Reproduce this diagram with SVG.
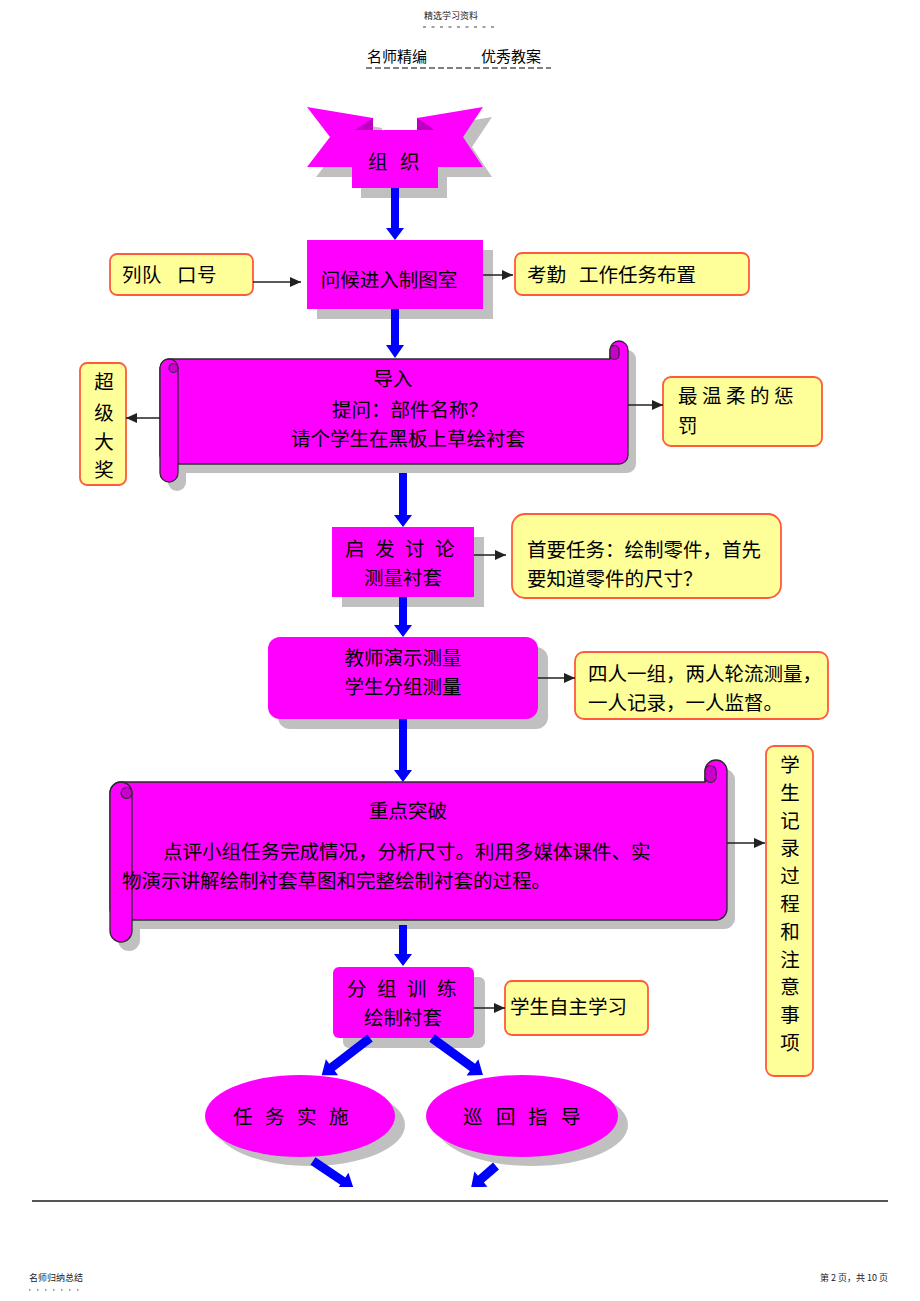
<svg xmlns="http://www.w3.org/2000/svg" width="920" height="1301" viewBox="0 0 920 1301">
<style>
text{font-family:"Noto Sans CJK SC","Liberation Sans",sans-serif;fill:#000}
.t{font-size:19.5px}
.s{font-size:9px;fill:#222}
.mag{fill:#FF00FF}
.sh{fill:#C0C0C0}
.scr{fill:#FF00FF;stroke:#2a2a2a;stroke-width:1.3}
.curl{fill:#CC00CC;stroke:#2a2a2a;stroke-width:1.2}
.yel{fill:#FFFF99;stroke:#FF5A3C;stroke-width:1.8}
.blk{stroke:#222;stroke-width:1.5;fill:none;marker-end:url(#ah)}
.blue{fill:#0000FF}
</style>
<defs>
<marker id="ah" markerUnits="userSpaceOnUse" markerWidth="11" markerHeight="10" refX="11" refY="5" orient="auto"><path d="M0,0 L11,5 L0,10 Z" fill="#222"/></marker>
<clipPath id="pg"><rect x="0" y="0" width="920" height="1187"/></clipPath>
</defs>
<rect width="920" height="1301" fill="#fff"/>

<g id="header">
<text class="s" x="424" y="19">精选学习资料</text>
<line x1="423" y1="27" x2="497" y2="27" stroke="#444" stroke-width="1" stroke-dasharray="3 5.5"/>
<text x="367" y="62" style="font-size:15px">名师精编</text>
<text x="481" y="62" style="font-size:15px">优秀教案</text>
<line x1="366" y1="68" x2="551" y2="68" stroke="#555" stroke-width="1.5" stroke-dasharray="6 3"/>
</g>

<g id="n_zuzhi">
<polygon class="sh" transform="translate(9,10)" points="307,107 373,118 373,130 417,130 417,118 483,107 463,137 483,167 438,167 438,188 352,188 352,167 307,167 330,137"/>
<polygon class="mag" points="307,107 373,118 373,130 417,130 417,118 483,107 463,137 483,167 438,167 438,188 352,188 352,167 307,167 330,137"/>
<polygon fill="#C000C0" points="355,130 373,118 373,130"/>
<polygon fill="#C000C0" points="435,130 417,118 417,130"/>
<text class="t" x="368 400" y="169">组织</text>
</g>

<g id="n_wenhou">
<rect class="sh" x="317" y="250" width="176" height="69"/>
<rect class="mag" x="307" y="240" width="176" height="69"/>
<text class="t" x="389" y="287" text-anchor="middle">问候进入制图室</text>
</g>

<g id="n_liedui">
<rect class="yel" x="110" y="254" width="143" height="41" rx="7"/>
<text class="t" x="122 142 177 197" y="282">列队口号</text>
</g>

<g id="n_kaoqin">
<rect class="yel" x="515" y="253" width="234" height="42" rx="7"/>
<text class="t" x="527" y="282">考勤</text>
<text class="t" x="579" y="282">工作任务布置</text>
</g>

<g id="n_daoru">
<g transform="translate(8,9)" class="sh">
<path d="M169,359 H610 V350 A9 9 0 0 1 628 350 V455 A9 9 0 0 1 619 464 H169 A9 9 0 0 1 160 455 V368 A9 9 0 0 1 169 359 Z"/>
<path d="M160,368 A9 9 0 0 1 178 368 V473 A9 9 0 0 1 160 473 Z"/>
</g>
<path class="scr" d="M169,359 H610 V350 A9 9 0 0 1 628 350 V455 A9 9 0 0 1 619 464 H169 A9 9 0 0 1 160 455 V368 A9 9 0 0 1 169 359 Z"/>
<path class="curl" d="M610,359 V350 A4.5 4.5 0 0 1 619 350 V355 A4.5 4.5 0 0 1 610 355"/>
<path class="scr" d="M160,368 A9 9 0 0 1 178 368 V473 A9 9 0 0 1 160 473 Z"/>
<path class="curl" d="M169,368 A4.5 4.5 0 0 1 178 368 A4.5 4.5 0 0 1 169 368 Z"/>
<text class="t" x="393" y="386" text-anchor="middle">导入</text>
<text class="t" x="410" y="417" text-anchor="middle">提问：部件名称？</text>
<text class="t" x="408" y="446" text-anchor="middle">请个学生在黑板上草绘衬套</text>
</g>

<g id="n_chaoji">
<rect class="yel" x="80" y="363" width="46" height="122" rx="7"/>
<text class="t" x="104" y="389" text-anchor="middle">超</text>
<text class="t" x="104" y="420" text-anchor="middle">级</text>
<text class="t" x="104" y="449" text-anchor="middle">大</text>
<text class="t" x="104" y="477" text-anchor="middle">奖</text>
</g>

<g id="n_chengfa">
<rect class="yel" x="663" y="377" width="159" height="69" rx="8"/>
<text class="t" x="678 702 726 750 774" y="403">最温柔的惩</text>
<text class="t" x="678" y="433">罚</text>
</g>

<g id="n_qifa">
<rect class="sh" x="342" y="537" width="142" height="70"/>
<rect class="mag" x="332" y="527" width="142" height="70"/>
<text class="t" x="345 375 405 435" y="556">启发讨论</text>
<text class="t" x="403" y="585" text-anchor="middle">测量衬套</text>
</g>

<g id="n_shouyao">
<rect class="yel" x="512" y="514" width="269" height="84" rx="13"/>
<text class="t" x="527" y="557">首要任务：绘制零件，首先</text>
<text class="t" x="527" y="586">要知道零件的尺寸？</text>
</g>

<g id="n_jiaoshi">
<rect class="sh" x="278" y="647" width="270" height="82" rx="12"/>
<rect class="mag" x="268" y="637" width="270" height="82" rx="12"/>
<text class="t" x="403" y="665" text-anchor="middle">教师演示测量</text>
<text class="t" x="403" y="694" text-anchor="middle">学生分组测量</text>
</g>

<g id="n_siren">
<rect class="yel" x="575" y="652" width="253" height="67" rx="9"/>
<text class="t" x="588" y="681">四人一组，两人轮流测量，</text>
<text class="t" x="588" y="710">一人记录，一人监督。</text>
</g>

<g id="n_zhongdian">
<g transform="translate(8,9)" class="sh">
<path d="M121,782 H705 V771 A11 11 0 0 1 727 771 V909 A11 11 0 0 1 716 920 H121 A11 11 0 0 1 110 909 V793 A11 11 0 0 1 121 782 Z"/>
<path d="M110,793 A11 11 0 0 1 132 793 V931 A11 11 0 0 1 110 931 Z"/>
</g>
<path class="scr" d="M121,782 H705 V771 A11 11 0 0 1 727 771 V909 A11 11 0 0 1 716 920 H121 A11 11 0 0 1 110 909 V793 A11 11 0 0 1 121 782 Z"/>
<path class="curl" d="M705,782 V771 A5.5 5.5 0 0 1 716 771 V777 A5.5 5.5 0 0 1 705 777"/>
<path class="scr" d="M110,793 A11 11 0 0 1 132 793 V931 A11 11 0 0 1 110 931 Z"/>
<path class="curl" d="M121,793 A5.5 5.5 0 0 1 132 793 A5.5 5.5 0 0 1 121 793 Z"/>
<text class="t" x="408" y="818" text-anchor="middle">重点突破</text>
<text class="t" x="163" y="859">点评小组任务完成情况，分析尺寸。利用多媒体课件、实</text>
<text class="t" x="122" y="888">物演示讲解绘制衬套草图和完整绘制衬套的过程。</text>
</g>

<g id="n_jilu">
<rect class="yel" x="766" y="746" width="47" height="330" rx="8"/>
<text class="t" x="790" text-anchor="middle" y="772">学</text>
<text class="t" x="790" text-anchor="middle" y="800">生</text>
<text class="t" x="790" text-anchor="middle" y="828">记</text>
<text class="t" x="790" text-anchor="middle" y="855">录</text>
<text class="t" x="790" text-anchor="middle" y="883">过</text>
<text class="t" x="790" text-anchor="middle" y="911">程</text>
<text class="t" x="790" text-anchor="middle" y="939">和</text>
<text class="t" x="790" text-anchor="middle" y="967">注</text>
<text class="t" x="790" text-anchor="middle" y="994">意</text>
<text class="t" x="790" text-anchor="middle" y="1022">事</text>
<text class="t" x="790" text-anchor="middle" y="1050">项</text>
</g>

<g id="n_fenzu">
<rect class="sh" x="343" y="977" width="142" height="71" rx="6"/>
<rect class="mag" x="333" y="967" width="141" height="71" rx="6"/>
<text class="t" x="347 377 407 437" y="996">分组训练</text>
<text class="t" x="403" y="1025" text-anchor="middle">绘制衬套</text>
</g>

<g id="n_zizhu">
<rect class="yel" x="505" y="981" width="143" height="54" rx="7"/>
<text class="t" x="510" y="1014">学生自主学习</text>
</g>

<g id="n_renwu">
<ellipse class="sh" cx="310" cy="1125" rx="95" ry="41"/>
<ellipse class="mag" cx="300" cy="1116" rx="95" ry="41"/>
<text class="t" x="233 265 297 329" y="1124">任务实施</text>
</g>

<g id="n_xunhui">
<ellipse class="sh" cx="532" cy="1125" rx="96" ry="41"/>
<ellipse class="mag" cx="522" cy="1116" rx="96" ry="41"/>
<text class="t" x="463 496 528 561" y="1124">巡回指导</text>
</g>

<g id="connectors">
<line class="blk" x1="253" y1="282" x2="301" y2="282"/>
<line class="blk" x1="483" y1="275" x2="513" y2="275"/>
<line class="blk" x1="160" y1="418" x2="126" y2="418"/>
<line class="blk" x1="628" y1="405" x2="663" y2="405"/>
<line class="blk" x1="474" y1="555" x2="506" y2="555"/>
<line class="blk" x1="538" y1="678" x2="575" y2="678"/>
<line class="blk" x1="727" y1="843" x2="765" y2="843"/>
<line class="blk" x1="474" y1="1008" x2="505" y2="1008"/>
<polygon class="blue" points="391,188 399,188 399,228 404,228 395,240 386,228 391,228"/>
<polygon class="blue" points="391,309 399,309 399,345 404,345 395,358 386,345 391,345"/>
<polygon class="blue" points="399,473 407,473 407,515 412,515 403,527 394,515 399,515"/>
<polygon class="blue" points="399,597 407,597 407,625 412,625 403,637 394,625 399,625"/>
<polygon class="blue" points="399,719 407,719 407,770 412,770 403,782 394,770 399,770"/>
<polygon class="blue" points="399,925 407,925 407,954 412,954 403,966 394,954 399,954"/>
<polygon class="blue" transform="translate(370,1038) rotate(142.4)" points="0,-4.5 48,-4.5 48,-10 61,0 48,10 48,4.5 0,4.5"/>
<polygon class="blue" transform="translate(432,1038) rotate(36)" points="0,-4.5 50,-4.5 50,-10 63,0 50,10 50,4.5 0,4.5"/>
<g clip-path="url(#pg)">
<polygon class="blue" transform="translate(313,1161) rotate(34)" points="0,-4.5 36,-4.5 36,-10 49,0 36,10 36,4.5 0,4.5"/>
<polygon class="blue" transform="translate(496,1166) rotate(139)" points="0,-4.5 20,-4.5 20,-10 33,0 20,10 20,4.5 0,4.5"/>
</g>
</g>

<g id="footer">
<line x1="32" y1="1201" x2="888" y2="1201" stroke="#555" stroke-width="2"/>
<text class="s" x="29" y="1281">名师归纳总结</text>
<line x1="29" y1="1290" x2="84" y2="1290" stroke="#444" stroke-width="1" stroke-dasharray="1.5 6.5"/>
<text class="s" x="888" y="1281" text-anchor="end">第 2 页，共 10 页</text>
</g>
</svg>
